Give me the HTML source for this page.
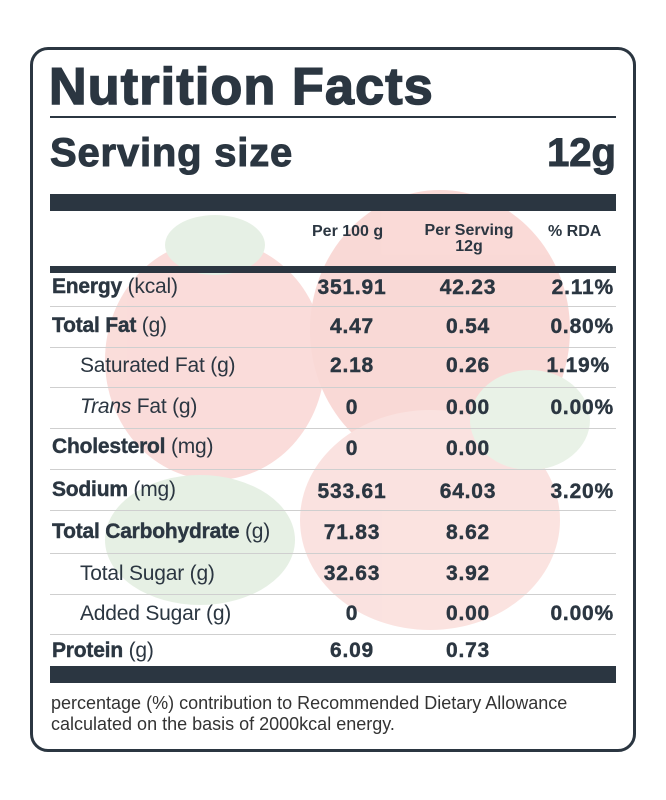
<!DOCTYPE html>
<html><head><meta charset="utf-8"><style>
*{margin:0;padding:0;box-sizing:border-box}
body{width:666px;height:800px;background:#fff;position:relative;font-family:"Liberation Sans",Arial,sans-serif;color:#2b3641;overflow:hidden}
.box{position:absolute;left:30px;top:47px;width:606px;height:705px;border:3px solid #2b3641;border-radius:18px}
.a{position:absolute;white-space:nowrap}
.l{left:52px;font-size:21px;transform:translateY(-50%);letter-spacing:-0.2px}
.ind{left:80px}
.b{font-weight:bold}
.l b{-webkit-text-stroke:0.4px #2b3641}
.v{font-size:21px;font-weight:bold;transform:translate(-50%,-50%);letter-spacing:0.8px;-webkit-text-stroke:0.4px #2b3641}
.r{font-size:21px;font-weight:bold;transform:translateY(-50%);right:52px;letter-spacing:0.8px;-webkit-text-stroke:0.4px #2b3641}
.hl{position:absolute;left:50px;width:566px;height:1px;background:#cfcfcf}
</style></head><body>
<svg class="a" style="left:0;top:0" width="666" height="800">
<g opacity="0.45">
<ellipse cx="215" cy="360" rx="110" ry="120" fill="#f4b3ae"/>
<ellipse cx="440" cy="330" rx="130" ry="140" fill="#f3aca6"/>
<ellipse cx="430" cy="520" rx="130" ry="110" fill="#f6c1bb"/>
<ellipse cx="200" cy="540" rx="95" ry="65" fill="#c8dec4"/>
<ellipse cx="215" cy="245" rx="50" ry="30" fill="#c9e0c6"/>
<ellipse cx="530" cy="420" rx="60" ry="50" fill="#cfe3cb"/>
</g>
</svg>
<div class="box"></div>
<div class="a b" style="left:49px;top:57px;font-size:52px;letter-spacing:1.2px;-webkit-text-stroke:1.5px #2b3641">Nutrition Facts</div>
<div class="a" style="left:50px;top:116px;width:566px;height:2px;background:#2b3641"></div>
<div class="a b" style="left:50px;top:131px;font-size:40px;letter-spacing:0.8px;-webkit-text-stroke:1px #2b3641">Serving size</div>
<div class="a b" style="right:50px;top:131px;font-size:40px;-webkit-text-stroke:1px #2b3641">12g</div>
<div class="a" style="left:50px;top:194px;width:566px;height:17px;background:#2b3641"></div>
<div class="a b" style="left:312px;top:223px;font-size:16px">Per 100 g</div>
<div class="a b" style="left:415px;top:223px;font-size:16px;text-align:center;line-height:16px;width:108px">Per Serving<br>12g</div>
<div class="a b" style="left:548px;top:223px;font-size:16px">% RDA</div>
<div class="a" style="left:50px;top:266px;width:566px;height:7px;background:#2b3641"></div>

<div class="hl" style="top:306px"></div><div class="hl" style="top:347px"></div><div class="hl" style="top:387px"></div><div class="hl" style="top:428px"></div><div class="hl" style="top:469px"></div><div class="hl" style="top:510px"></div><div class="hl" style="top:553px"></div><div class="hl" style="top:594px"></div><div class="hl" style="top:634px"></div>

<div class="a l" style="top:287px"><b>Energy</b> (kcal)</div>
<div class="a v" style="left:352px;top:288px">351.91</div><div class="a v" style="left:468px;top:288px">42.23</div><div class="a r" style="top:288px">2.11%</div>

<div class="a l" style="top:326px"><b>Total Fat</b> (g)</div>
<div class="a v" style="left:352px;top:327px">4.47</div><div class="a v" style="left:468px;top:327px">0.54</div><div class="a r" style="top:327px">0.80%</div>

<div class="a l ind" style="top:366px">Saturated Fat (g)</div>
<div class="a v" style="left:352px;top:366px">2.18</div><div class="a v" style="left:468px;top:366px">0.26</div><div class="a r" style="top:366px;right:56px">1.19%</div>

<div class="a l ind" style="top:407px"><i>Trans</i> Fat (g)</div>
<div class="a v" style="left:352px;top:408px">0</div><div class="a v" style="left:468px;top:408px">0.00</div><div class="a r" style="top:408px">0.00%</div>

<div class="a l" style="top:447px"><b>Cholesterol</b> (mg)</div>
<div class="a v" style="left:352px;top:449px">0</div><div class="a v" style="left:468px;top:449px">0.00</div>

<div class="a l" style="top:490px"><b>Sodium</b> (mg)</div>
<div class="a v" style="left:352px;top:492px">533.61</div><div class="a v" style="left:468px;top:492px">64.03</div><div class="a r" style="top:492px">3.20%</div>

<div class="a l" style="top:532px"><b>Total Carbohydrate</b> (g)</div>
<div class="a v" style="left:352px;top:533px">71.83</div><div class="a v" style="left:468px;top:533px">8.62</div>

<div class="a l ind" style="top:574px">Total Sugar (g)</div>
<div class="a v" style="left:352px;top:574px">32.63</div><div class="a v" style="left:468px;top:574px">3.92</div>

<div class="a l ind" style="top:614px">Added Sugar (g)</div>
<div class="a v" style="left:352px;top:614px">0</div><div class="a v" style="left:468px;top:614px">0.00</div><div class="a r" style="top:614px">0.00%</div>

<div class="a l" style="top:651px"><b>Protein</b> (g)</div>
<div class="a v" style="left:352px;top:651px">6.09</div><div class="a v" style="left:468px;top:651px">0.73</div>

<div class="a" style="left:50px;top:666px;width:566px;height:17px;background:#2b3641"></div>
<div class="a" style="left:51px;top:693px;font-size:18px;line-height:21px;color:#333">percentage (%) contribution to Recommended Dietary Allowance<br>calculated on the basis of 2000kcal energy.</div>
</body></html>
